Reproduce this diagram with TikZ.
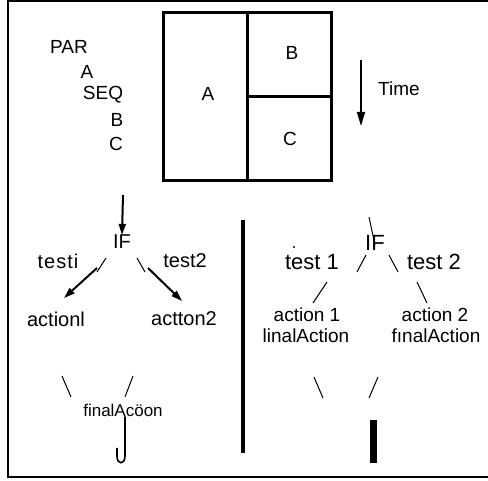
\documentclass[tikz,border=0pt]{standalone}
\usepackage{fontspec}
\setmainfont{Liberation Sans}
\usetikzlibrary{arrows.meta}
\tikzset{
  lbl/.style={inner sep=0pt, anchor=center, font=\fontsize{19}{21}\selectfont},
  lbig/.style={inner sep=0pt, anchor=center, font=\fontsize{20}{22}\selectfont},
  lhuge/.style={inner sep=0pt, anchor=center, font=\fontsize{22}{24}\selectfont},
  lsmall/.style={inner sep=0pt, anchor=center, font=\fontsize{17}{19}\selectfont},
  frame/.style={line width=2.4pt},
  boxline/.style={line width=3pt},
  tick/.style={line width=1pt},
  arr/.style={line width=2pt, -{Triangle[length=11pt,width=7pt]}},
}
\begin{document}
\begin{tikzpicture}[x=1pt,y=-1pt]
\useasboundingbox (0,0) rectangle (488,481);
% outer frame
\draw[frame] (488,1) -- (8,1) -- (8,477) -- (488,477);
% program text
\node[lbl] (par) at (69,47) {PAR};
\node[lbl] (pa) at (87,72) {A};
\node[lbl] (seq) at (103,95) {SEQ};
\node[lbl] (pb) at (117,120) {B};
\node[lbl] (pc) at (116,144) {C};
% box diagram
\draw[boxline] (163,13) rectangle (331,181);
\draw[boxline] (247,13) -- (247,181);
\draw[boxline] (247,97) -- (331,97);
\node[lbl] (ba) at (208,94) {A};
\node[lbl] (bb) at (292,53) {B};
\node[lbl] (bc) at (290,139) {C};
% time arrow
\coordinate (t0) at (361,60);
\coordinate (t1) at (361,126);
\draw[line width=1.8pt, -{Triangle[length=14pt,width=8pt]}] (t0) -- (t1);
\node[lbl] (time) at (399,89) {Time};
% left tree
\coordinate (in0) at (123,195);
\node[lbig] (if1) at (122,242) {IF};
\draw[arr] (in0) -- (if1.north);
\node[lbig] (t1l) at (58,261) {t\kern1pt e\kern1pt s\kern1pt t\kern1pt i};
\node[lbig] (t2l) at (185,261) {test2};
\coordinate (s1a) at (106,258); \coordinate (s1b) at (97,272);
\coordinate (s2a) at (137,258); \coordinate (s2b) at (145,272);
\draw[tick] (s1a) -- (s1b);
\draw[tick] (s2a) -- (s2b);
\node[lbig] (a1l) at (56,319) {actionl};
\node[lbig] (a2l) at (184,319) {actton2};
\coordinate (la0) at (97,268); \coordinate (la1) at (64,298);
\coordinate (ra0) at (148,268); \coordinate (ra1) at (182,301);
\draw[arr] (la0) -- (la1);
\draw[arr] (ra0) -- (ra1);
\coordinate (s3a) at (62,376); \coordinate (s3b) at (71,397);
\coordinate (s4a) at (133,376); \coordinate (s4b) at (125,397);
\draw[tick] (s3a) -- (s3b);
\draw[tick] (s4a) -- (s4b);
\node[lsmall] (fl) at (123,410) {finalAcöon};
\draw[line width=1.6pt] (fl.south -| 125,420) -- (125,456) .. controls (125,465) and (117,465) .. (117,456) -- (117,448);
% divider
\coordinate (d0) at (243,220); \coordinate (d1) at (243,453);
\draw[line width=4pt] (d0) -- (d1);
% right tree
\node[lhuge] (if2) at (375,243) {IF};
\coordinate (r0a) at (369,217); \coordinate (r0b) at (375,245);
\draw[tick] (r0a) -- (r0b);
\fill (294,247) circle (1.2pt);
\node[lhuge] (t1r) at (312,262) {test~1};
\node[lhuge] (t2r) at (434,262) {test 2};
\coordinate (s5a) at (366,255); \coordinate (s5b) at (357,272);
\coordinate (s6a) at (389,255); \coordinate (s6b) at (398,272);
\draw[tick] (s5a) -- (s5b);
\draw[tick] (s6a) -- (s6b);
\coordinate (s7a) at (327,282); \coordinate (s7b) at (313,303);
\coordinate (s8a) at (417,282); \coordinate (s8b) at (427,303);
\draw[tick] (s7a) -- (s7b);
\draw[tick] (s8a) -- (s8b);
\node[lbl] (a1r) at (307,315) {action 1};
\node[lbl] (f1r) at (306,336) {linalAction};
\node[lbl] (a2r) at (435,315) {action 2};
\node[lbl] (f2r) at (436,336) {fınalAction};
\coordinate (s9a) at (314,377); \coordinate (s9b) at (323,398);
\coordinate (s10a) at (378,377); \coordinate (s10b) at (369,398);
\draw[tick] (s9a) -- (s9b);
\draw[tick] (s10a) -- (s10b);
\fill (370,420) rectangle (377,463);
\end{tikzpicture}
\end{document}
